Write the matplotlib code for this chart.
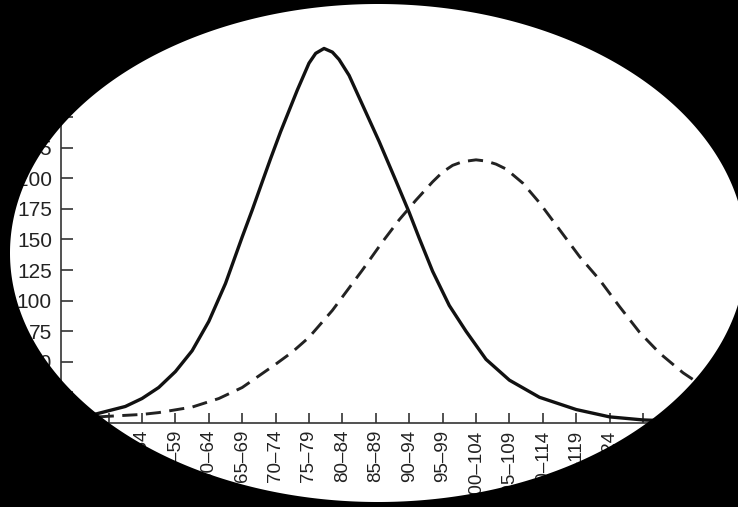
import numpy as np
import matplotlib
matplotlib.use("Agg")
import matplotlib.pyplot as plt
from matplotlib.path import Path
from matplotlib.patches import PathPatch

plt.rcParams['font.family'] = ['Liberation Sans', 'DejaVu Sans']

# age groups (x categories), 45-49 sits at position 0
age_groups = ["45–49", "50–54", "55–59", "60–64", "65–69", "70–74", "75–79",
              "80–84", "85–89", "90–94", "95–99", "100–104", "105–109",
              "110–114", "115–119", "120–124", "125–129"]
y_ticks = list(range(0, 325, 25))

# solid curve (x in category units)
solid_x = [-1.0, -0.5, 0, 0.5, 1, 1.5, 2, 2.5, 3, 3.5, 4, 4.3, 4.6, 4.85,
           5.15, 5.65, 6.0, 6.2, 6.45, 6.7, 6.9, 7.2, 7.6, 8.1, 8.6, 9.0,
           9.3, 9.7, 10.2, 10.7, 11.3, 12.0, 12.9, 14.0, 15.0, 16.0, 17.0, 18.0]
solid_y = [3.5, 6.5, 10, 13.5, 20, 29, 42, 59, 83, 114, 152, 174, 197, 216,
           238, 272, 294, 302, 306, 303, 297, 284, 260, 230, 198, 172,
           151, 124, 96, 75, 52, 35, 21, 11, 5, 2.5, 1.5, 1]

# dashed curve
dashed_x = [-1.0, -0.3, 0, 1, 1.5, 2.5, 3.3, 4.0, 5.0, 5.5, 6.0, 6.7, 7.6,
            8.2, 8.7, 9.2, 9.7, 10.0, 10.3, 10.6, 11.0, 11.3, 11.6, 11.9,
            12.4, 12.9, 13.5, 14.1, 14.7, 15.3, 15.9, 16.5, 17.2, 17.8, 18.5]
dashed_y = [3, 5, 5.5, 7, 8.5, 13, 20, 29, 48, 58, 70, 92, 125,
            148, 166, 182, 197, 205, 210.5, 213.5, 215, 214, 211.5, 207.5,
            196, 180, 158, 136, 117, 95, 74, 57, 41, 30, 20]

W, H = 738, 507
fig = plt.figure(figsize=(W / 100, H / 100), dpi=100, facecolor='white')

ax = fig.add_axes([61 / W, (H - 423) / H, (W - 61) / W, 423 / H])
ax.set_facecolor('white')

ax.plot(solid_x, solid_y, color='#111111', lw=2.4, solid_joinstyle='round')
ax.plot(dashed_x, dashed_y, color='#222222', lw=2.1, linestyle=(0, (5.2, 2.9)))

ax.set_xlim((61 - 108.6) / 33.4, (W - 108.6) / 33.4)
ax.set_ylim(0, 423 * 25 / 30.6)

ax.set_xticks(range(len(age_groups)))
ax.set_xticklabels(age_groups, rotation=90, fontsize=13.5)
ax.set_yticks(y_ticks)
ax.set_yticklabels([str(v) for v in y_ticks], fontsize=15)

ax.tick_params(axis='x', direction='in', length=7, width=1.2, pad=5, colors='#333333')
ax.tick_params(axis='y', direction='in', length=8.5, width=1.2, pad=6.5, colors='#333333')
for lab in ax.get_xticklabels() + ax.get_yticklabels():
    lab.set_color('#222222')

for side in ['top', 'right']:
    ax.spines[side].set_visible(False)
for side in ['left', 'bottom']:
    ax.spines[side].set_linewidth(1.2)
    ax.spines[side].set_color('#333333')

# black frame with an elliptical window (pixel geometry of the scan)
cx, cy, a, b = 378 / W, (H - 253) / H, 368 / W, 249 / H
t = np.linspace(0, 2 * np.pi, 721)
ell = np.column_stack([cx + a * np.cos(t), cy + b * np.sin(t)])[::-1]
rect = np.array([[0, 0], [1, 0], [1, 1], [0, 1], [0, 0]])
verts = np.vstack([rect, ell])
codes = ([Path.MOVETO] + [Path.LINETO] * 3 + [Path.CLOSEPOLY] +
         [Path.MOVETO] + [Path.LINETO] * (len(ell) - 2) + [Path.CLOSEPOLY])
mask = PathPatch(Path(verts, codes), facecolor='black', edgecolor='none',
                 transform=fig.transFigure, zorder=10)
fig.add_artist(mask)

fig.savefig('out.png', dpi=100, facecolor='white')
